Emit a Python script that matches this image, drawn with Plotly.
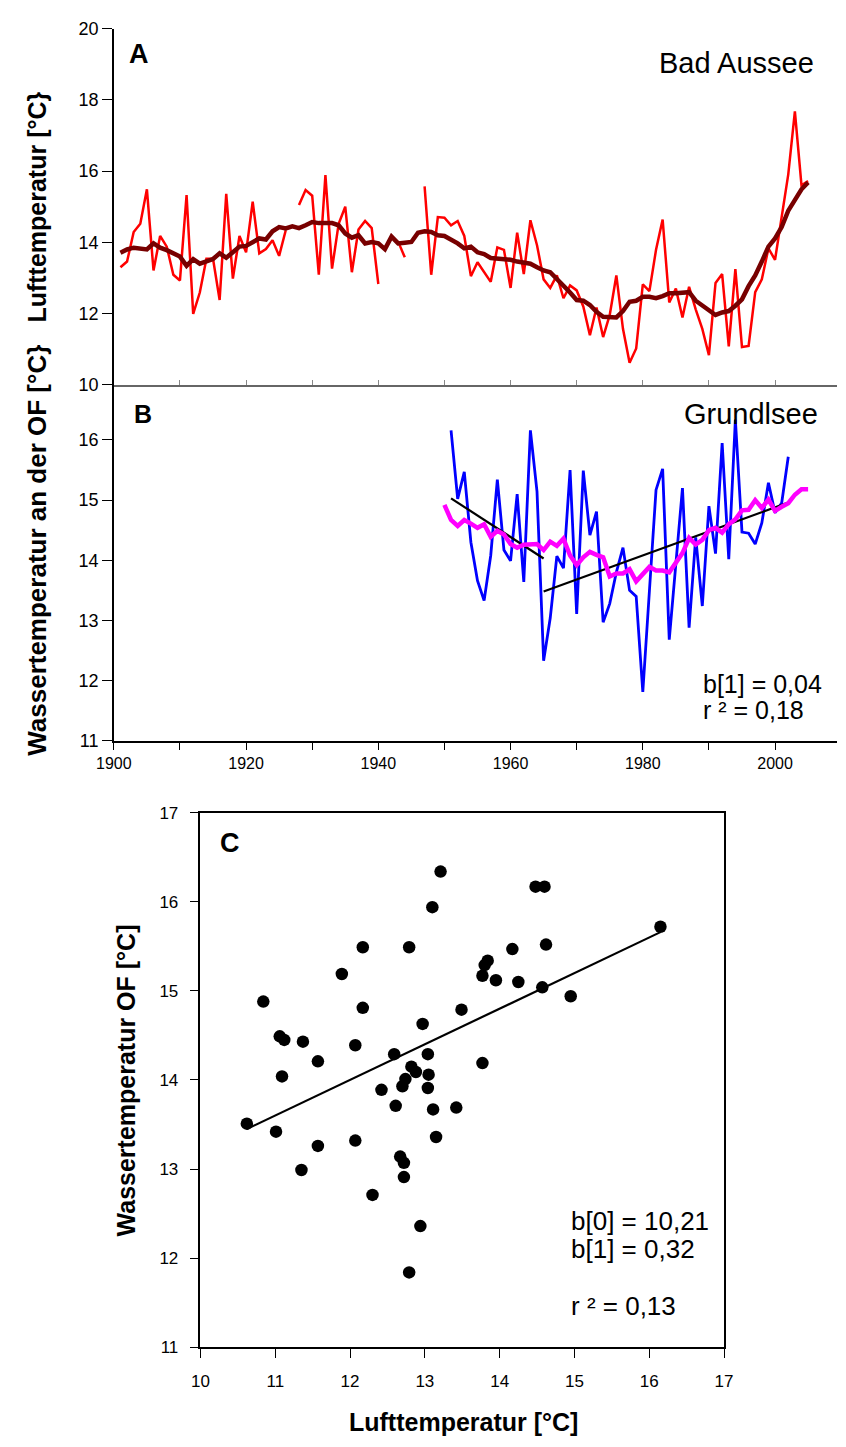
import plotly.graph_objects as go

W, H = 846, 1447


def px(x):
    return x / W


def py(y):
    return 1 - y / H


# ---------------- data ----------------
years_air = list(range(1901, 2006))
air_temp = [
    13.30, 13.46, 14.29, 14.52, 15.49, 13.21, 14.18, 13.88, 13.09, 12.93,   # 1901-1910
    15.33, 11.99, 12.59, 13.54, 13.54, 12.38, 15.36, 12.98, 14.18, 13.72,   # 1911-1920
    15.14, 13.69, 13.81, 14.06, 13.62, 14.34, None, 15.05, 15.47, 15.31,    # 1921-1930
    13.09, 15.89, 13.26, 14.52, 15.00, 13.16, 14.36, 14.60, 14.40, 12.83,   # 1931-1940
    None, None, 14.02, 13.58, None, None, 15.57, 13.09, 14.71, 14.69,       # 1941-1950
    14.48, 14.60, 14.18, 13.05, 13.44, 13.16, 12.89, 13.86, 13.79, 12.72,   # 1951-1960
    14.27, 13.11, 14.62, 13.92, 12.96, 12.72, 13.07, 12.43, 12.79, 12.65,   # 1961-1970
    12.20, 11.39, 12.17, 11.34, 11.96, 13.07, 11.57, 10.62, 11.02, 12.82,   # 1971-1980
    12.63, 13.79, 14.64, 12.31, 12.70, 11.89, 12.75, 12.12, 11.57, 10.83,   # 1981-1990
    12.86, 13.11, 11.08, 13.25, 11.06, 11.09, 12.60, 12.96, 13.83, 13.51,   # 1991-2000
    14.71, 15.91, 17.68, 15.60, 15.72,                                      # 2001-2005
]
air_smooth = [
    13.71, 13.80, 13.85, 13.83, 13.80, 13.97, 13.85, 13.78, 13.69, 13.60,
    13.34, 13.53, 13.40, 13.46, 13.53, 13.69, 13.57, 13.72, 13.88, 13.90,
    13.99, 14.11, 14.08, 14.31, 14.43, 14.39, 14.45, 14.40, 14.48, 14.57,
    14.54, 14.54, 14.54, 14.48, 14.25, 14.13, 14.20, 13.97, 14.01, 13.97,
    13.81, 14.16, 13.97, 13.99, 14.01, 14.27, 14.31, 14.29, 14.20, 14.18,
    14.08, 13.97, 13.83, 13.88, 13.72, 13.67, 13.56, 13.55, 13.54, 13.51,
    13.46, 13.44, 13.40, 13.30, 13.21, 13.16, 12.97, 12.81, 12.59, 12.38,
    12.36, 12.24, 12.05, 11.91, 11.89, 11.89, 12.07, 12.33, 12.36, 12.47,
    12.47, 12.43, 12.49, 12.57, 12.57, 12.57, 12.60, 12.36, 12.22, 12.07,
    11.96, 12.03, 12.07, 12.22, 12.40, 12.77, 13.07, 13.46, 13.88, 14.11,
    14.43, 14.89, 15.22, 15.49, 15.68,
]

years_water = list(range(1951, 2003))
water_temp = [
    16.16, 15.02, 15.47, 14.30, 13.66, 13.33, 14.08, 15.34, 14.17, 13.99,   # 1951-1960
    15.10, 13.64, 16.16, 15.14, 12.33, 13.04, 14.07, 13.87, 15.50, 13.11,   # 1961-1970
    15.49, 14.42, 14.81, 12.97, 13.28, 13.80, 14.21, 13.50, 13.40, 11.81,   # 1971-1980
    13.49, 15.17, 15.52, 12.68, 13.94, 15.20, 12.88, 14.38, 13.24, 14.90,   # 1981-1990
    14.11, 15.95, 14.02, 16.34, 14.47, 14.45, 14.27, 14.62, 15.29, 14.79,   # 1991-2000
    14.95, 15.72,                                                           # 2001-2002
]
years_water_smooth = list(range(1950, 2006))
water_smooth = [
    14.92, 14.67, 14.57, 14.67, 14.61, 14.54, 14.60, 14.39, 14.49, 14.43,   # 1950-1959
    14.27, 14.21, 14.26, 14.27, 14.27, 14.17, 14.31, 14.24, 14.36, 14.08,   # 1960-1969
    13.92, 14.05, 14.14, 14.09, 14.05, 13.73, 13.78, 13.78, 13.85, 13.65,   # 1970-1979
    13.76, 13.89, 13.83, 13.83, 13.80, 13.95, 14.12, 14.37, 14.26, 14.34,   # 1980-1989
    14.50, 14.54, 14.46, 14.60, 14.68, 14.83, 14.84, 15.00, 14.87, 15.01,   # 1990-1999
    14.82, 14.89, 14.95, 15.09, 15.18, 15.18,                               # 2000-2005
]
trend1_years = [1951, 1965]
trend1_vals = [15.03, 14.03]
trend2_years = [1965, 2002]
trend2_vals = [13.48, 14.96]

scatter_air = [
    13.21, 13.10, 12.17, 12.79, 11.89, 10.84, 12.17, 13.49, 12.97, 11.06,
    11.12, 11.37, 12.07, 12.59, 13.04, 11.57, 12.82, 12.88, 13.05, 11.09,
    12.74, 12.70, 13.04, 12.42, 12.61, 13.11, 13.42, 10.62, 11.01, 13.15,
    12.07, 11.57, 12.67, 12.72, 11.35, 12.72, 12.30, 12.94, 12.79,
    14.48, 14.60, 16.15, 14.62, 14.17, 13.84, 13.80, 13.77, 13.95, 14.25,
    14.57, 14.95, 13.77,
]
scatter_water = [
    16.34, 15.94, 15.49, 15.49, 15.19, 14.88, 14.81, 14.79, 14.63, 14.49,
    14.45, 14.43, 14.39, 14.29, 14.29, 14.21, 14.15, 14.09, 14.06, 14.04,
    14.01, 13.93, 13.91, 13.89, 13.71, 13.67, 13.69, 13.51, 13.42, 13.36,
    13.32, 13.26, 13.14, 13.07, 12.99, 12.91, 12.71, 12.36, 11.84,
    16.17, 16.17, 15.72, 15.52, 15.47, 15.34, 15.29, 15.17, 15.12, 15.10,
    15.04, 14.94, 14.19,
]
fit_air = [10.62, 16.15]
fit_water = [13.45, 15.66]

decade_ticks = list(range(1900, 2010, 10))
decade_labels = [str(y) if y % 20 == 0 else "" for y in decade_ticks]
yA_ticks = [10, 12, 14, 16, 18, 20]
yB_ticks = [11, 12, 13, 14, 15, 16]
xC_ticks = [10, 11, 12, 13, 14, 15, 16, 17]
yC_ticks = [11, 12, 13, 14, 15, 16, 17]

# ---------------- figure ----------------
FONT = "Liberation Sans, Arial, Helvetica, sans-serif"
fig = go.Figure()

fig.add_trace(go.Scatter(x=years_air, y=air_temp, mode="lines", connectgaps=False,
                         line=dict(color="#FF0000", width=2.5), xaxis="x", yaxis="y"))
fig.add_trace(go.Scatter(x=years_air, y=air_smooth, mode="lines",
                         line=dict(color="#780000", width=4.5), xaxis="x", yaxis="y"))

fig.add_trace(go.Scatter(x=years_water, y=water_temp, mode="lines",
                         line=dict(color="#0000FF", width=2.8), xaxis="x2", yaxis="y2"))
fig.add_trace(go.Scatter(x=trend1_years, y=trend1_vals, mode="lines",
                         line=dict(color="black", width=2.2), xaxis="x2", yaxis="y2"))
fig.add_trace(go.Scatter(x=trend2_years, y=trend2_vals, mode="lines",
                         line=dict(color="black", width=2.2), xaxis="x2", yaxis="y2"))
fig.add_trace(go.Scatter(x=years_water_smooth, y=water_smooth, mode="lines",
                         line=dict(color="#FF00FF", width=4.5), xaxis="x2", yaxis="y2"))

fig.add_trace(go.Scatter(x=fit_air, y=fit_water, mode="lines",
                         line=dict(color="black", width=2.2), xaxis="x3", yaxis="y3"))
fig.add_trace(go.Scatter(x=scatter_air, y=scatter_water, mode="markers",
                         marker=dict(color="black", size=12.5), xaxis="x3", yaxis="y3"))

x_end = 1900 + (W - 99) / 6.83
tickfont = dict(family=FONT, size=17, color="black")

common = dict(showgrid=False, zeroline=False, showline=True, linecolor="black",
              linewidth=1.5, tickcolor="black", tickwidth=1.2)

fig.update_layout(
    width=W, height=H, margin=dict(l=0, r=0, t=0, b=0),
    paper_bgcolor="white", plot_bgcolor="white", showlegend=False,
    xaxis=dict(domain=[px(99), 1], range=[1900, x_end], anchor="y",
               tickvals=decade_ticks, showticklabels=False, ticks="inside", ticklen=5,
               **{**common, "linecolor": "#666666", "tickcolor": "#888888"}),
    yaxis=dict(domain=[py(380), py(19)], range=[10, 20], anchor="x",
               tickvals=yA_ticks, ticks="outside", ticklen=10,
               tickfont=dict(family=FONT, size=18, color="black"), **common),
    xaxis2=dict(domain=[px(99), 1], range=[1900, x_end], anchor="y2",
                tickvals=decade_ticks, ticktext=decade_labels, ticks="outside", ticklen=7,
                tickfont=dict(family=FONT, size=16, color="black"), **common),
    yaxis2=dict(domain=[py(741), py(380)], range=[11, 11 + 361 / 61], anchor="x2",
                tickvals=yB_ticks, ticks="outside", ticklen=10,
                tickfont=dict(family=FONT, size=18, color="black"), **common),
    xaxis3=dict(domain=[px(188.5), px(729.3)], range=[10, 17], anchor="y3",
                tickvals=xC_ticks, ticks="outside", ticklen=9, mirror=True,
                ticklabelstandoff=9, tickfont=tickfont, **common),
    yaxis3=dict(domain=[py(1356), py(814)], range=[11, 17], anchor="x3",
                tickvals=yC_ticks, ticks="outside", ticklen=9, mirror=True,
                ticklabelstandoff=8, tickfont=tickfont, **common),
)


def note(text, x, y, size, xanchor="left", bold=False, angle=0):
    fig.add_annotation(
        text=("<b>%s</b>" % text) if bold else text,
        x=px(x), y=py(y), xref="paper", yref="paper",
        xanchor=xanchor, yanchor="middle", showarrow=False, textangle=angle,
        font=dict(family=FONT, size=size, color="black"),
    )


note("A", 113, 45, 27, bold=True)
note("Bad Aussee", 824, 54, 29, xanchor="right")
note("B", 118, 410, 25, bold=True)
note("Grundlsee", 828, 410, 29, xanchor="right")
note("b[1] = 0,04", 705, 683, 25)
note("r ² = 0,18", 705, 710, 25)

note("C", 207, 845, 27, bold=True)
note("b[0] = 10,21", 569, 1228, 26)
note("b[1] = 0,32", 569, 1256, 26)
note("r ² = 0,13", 569, 1314, 26)

note("Lufttemperatur [°C}", 20, 200, 25, xanchor="center", bold=True, angle=-90)
note("Wassertemperatur an der OF [°C}", 20, 548, 26, xanchor="center", bold=True, angle=-90)
note("Wassertemperatur OF [°C]", 112, 1085, 25, xanchor="center", bold=True, angle=-90)
note("Lufttemperatur [°C]", 460, 1432, 25, xanchor="center", bold=True)

fig.write_html("out.html")
